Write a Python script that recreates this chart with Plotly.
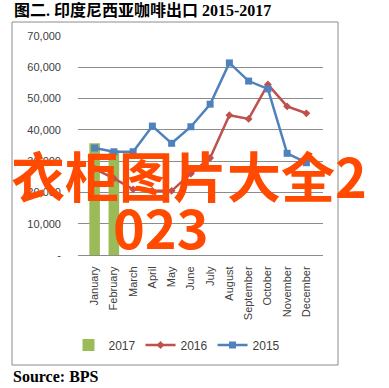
import plotly.graph_objects as go

months = ["January", "February", "March", "April", "May", "June", "July",
          "August", "September", "October", "November", "December"]
exports_2017 = [35700, 33500]
exports_2016 = [27500, 24500, 21000, 20500, 20500, 26000, 31000, 44700, 43500, 54500, 47500, 45300]
exports_2015 = [34200, 33000, 33000, 41200, 35700, 41000, 48200, 61400, 55600, 53100, 32500, 29500]
y_tickvals = [0, 10000, 20000, 30000, 40000, 50000, 60000, 70000]
y_ticktext = ["-", "10,000", "20,000", "30,000", "40,000", "50,000", "60,000", "70,000"]

W, H = 389, 388
L, R, T, B = 78, 323, 36, 255


def px_x(x):
    return (x - L) / (R - L)


def px_y(y):
    return (B - y) / (B - T)


fig = go.Figure()
fig.add_trace(go.Bar(x=months[:len(exports_2017)], y=exports_2017, name="2017",
                     marker=dict(color="#9BBB59", line=dict(width=0)), width=0.55))
fig.add_trace(go.Scatter(x=months, y=exports_2016, name="2016", mode="lines+markers",
                         line=dict(color="#C0504D", width=2.5),
                         marker=dict(symbol="diamond", size=6, color="#C0504D")))
fig.add_trace(go.Scatter(x=months, y=exports_2015, name="2015", mode="lines+markers",
                         line=dict(color="#4F81BD", width=2.5),
                         marker=dict(symbol="square", size=7, color="#4F81BD")))

fig.update_layout(
    width=W, height=H,
    margin=dict(l=L, r=W - R, t=T, b=H - B),
    paper_bgcolor="white", plot_bgcolor="white",
    showlegend=True,
    legend=dict(orientation="h", x=px_x(177), xanchor="center", y=px_y(345), yanchor="middle",
                font=dict(family="Liberation Sans, Arial", size=12, color="#404040"),
                traceorder="normal", itemwidth=30),
    xaxis=dict(categoryorder="array", categoryarray=months, tickangle=-90,
               showgrid=False, showline=True, linecolor="#8c8c8c", linewidth=1,
               tickfont=dict(family="Liberation Sans, Arial", size=11, color="#404040"),
               ticks="", ticklabelstandoff=6),
    yaxis=dict(range=[0, 70000], tickvals=y_tickvals, ticktext=y_ticktext,
               showgrid=True, gridcolor="#8c8c8c", gridwidth=1, zeroline=False,
               showline=False, ticks="", ticklabelstandoff=16,
               tickfont=dict(family="Liberation Sans, Arial", size=11, color="#404040")),
    bargap=0.45,
)

# outer border box
fig.add_shape(type="rect", xref="paper", yref="paper",
              x0=px_x(12), x1=px_x(338), y0=px_y(365), y1=px_y(22),
              line=dict(color="#8c8c8c", width=1), fillcolor="rgba(0,0,0,0)", layer="below")

# title
fig.add_annotation(text="<b>图二. 印度尼西亚咖啡出口 2015-2017</b>", xref="paper", yref="paper",
                   x=px_x(12), y=px_y(10), xanchor="left", yanchor="middle", showarrow=False,
                   font=dict(family="Liberation Serif, Times New Roman, Noto Sans CJK SC", size=16, color="black"))
# source
fig.add_annotation(text="<b>Source: BPS</b>", xref="paper", yref="paper",
                   x=px_x(11), y=px_y(377), xanchor="left", yanchor="middle", showarrow=False,
                   font=dict(family="Liberation Serif, Times New Roman", size=16, color="black"))

# overlay watermark text
fig.add_annotation(text="衣柜图片大全2", xref="paper", yref="paper",
                   x=px_x(189), y=px_y(174), xanchor="center", yanchor="middle", showarrow=False,
                   font=dict(family="Noto Sans CJK SC", size=54, color="#FF4A00", weight=700))
fig.add_annotation(text="023", xref="paper", yref="paper",
                   x=px_x(161), y=px_y(225), xanchor="center", yanchor="middle", showarrow=False,
                   font=dict(family="Noto Sans CJK SC", size=54, color="#FF4A00", weight=700))

fig.write_html("out.html", config={"displayModeBar": False},
               post_script="document.body.style.margin='0';")
